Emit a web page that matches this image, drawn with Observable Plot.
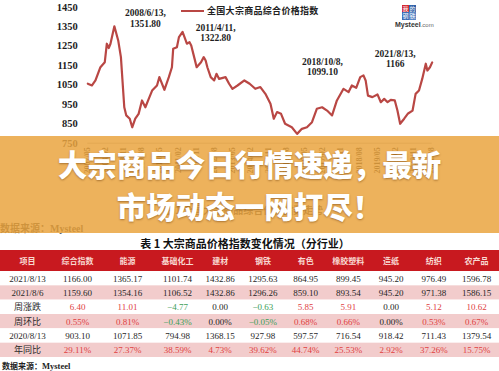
<!DOCTYPE html>
<html><head><meta charset="utf-8">
<script src="https://cdn.jsdelivr.net/npm/d3@7"></script>
<script src="https://cdn.jsdelivr.net/npm/@observablehq/plot@0.6"></script>
<style>
html,body{margin:0;padding:0;background:#fff;}
#wrap{position:relative;width:499px;height:371px;overflow:hidden;background:#fff;}
#wrap > div{position:absolute;white-space:nowrap;}
.cjk{font-family:"Noto Sans CJK SC","Liberation Serif",sans-serif;}
#chart [aria-label^="y-axis"] text{font:bold 10.5px "Liberation Serif",serif;fill:#1e1e1e;}
#chart [aria-label^="x-axis"] text{font:bold 8px "Liberation Serif",serif;fill:#1a1a1a;}
#table [aria-label="header"] text{letter-spacing:2px;}
</style></head>
<body><div id="wrap">
 <div id="chart" style="left:0;top:0;"></div>
 <div style="left:181px;top:10px;width:23px;height:2px;background:#b94744;"></div>
 <div class="cjk" style="left:207px;top:4px;font-size:9px;font-weight:700;letter-spacing:0.3px;color:#222;line-height:14px;">全国大宗商品综合价格指数</div>
 <div class="cjk" style="left:402px;top:5px;width:7px;height:7px;background:#d3262e;color:#fff;font-size:6px;line-height:7px;text-align:center;">我</div>
 <div class="cjk" style="left:409px;top:5px;width:7px;height:7px;background:#2f5fa8;color:#fff;font-size:6px;line-height:7px;text-align:center;">的</div>
 <div class="cjk" style="left:402px;top:12px;width:7px;height:8px;background:#3d6cb5;color:#fff;font-size:6px;line-height:8px;text-align:center;">钢</div>
 <div class="cjk" style="left:409px;top:12px;width:7px;height:8px;background:#5a86c6;color:#fff;font-size:6px;line-height:8px;text-align:center;">铁</div>
 <div style="left:395px;top:20px;font:bold 7px 'Liberation Sans',sans-serif;color:#333;line-height:9px;">Mysteel<span style="font-weight:400;font-size:6px;color:#666;">.com</span></div>
 <div class="cjk" style="left:0;width:486px;top:203px;text-align:center;font-size:10px;font-weight:700;color:#333;line-height:14px;">图 1 全国大宗商品综合价格指数走势</div>
 <div class="cjk" style="left:0;top:221px;font-size:10px;font-weight:700;color:#333;line-height:14px;">数据来源：<span style="font-family:'Liberation Serif',serif;">Mysteel</span></div>
 <div style="left:0;top:136px;width:499px;height:97px;background:rgba(234,164,63,0.85);"></div>
 <div class="cjk" style="left:0;width:499px;top:146px;text-align:center;font-size:29.5px;font-weight:900;color:#fff;line-height:34px;text-shadow:0 1px 2px rgba(90,45,0,0.45);">大宗商品今日行情速递，最新</div>
 <div class="cjk" style="left:0;width:499px;top:188px;text-align:center;font-size:29.5px;font-weight:900;color:#fff;line-height:34px;text-shadow:0 1px 2px rgba(90,45,0,0.45);">市场动态一网打尽！</div>
 <div class="cjk" style="left:0;width:490px;top:236px;text-align:center;font-size:11px;font-weight:700;color:#111;line-height:15px;">表 1 大宗商品价格指数变化情况（分行业）</div>
 <div id="table" style="left:0;top:248px;"></div>
 <div class="cjk" style="left:2px;top:360px;font-size:8px;font-weight:700;color:#222;line-height:11px;">数据来源：<span style="font-family:'Liberation Serif',serif;font-size:8.5px;">Mysteel</span></div>
</div>
<script>
// ---- Line chart data ----
const indexDates = ["2007-05-08","2007-07-10","2007-09-01","2007-11-15","2008-01-20","2008-02-20","2008-03-20","2008-04-15","2008-06-13","2008-08-10","2008-09-20","2008-11-10","2008-12-10","2009-02-01","2009-03-10","2009-04-25","2009-06-15","2009-08-05","2009-09-25","2009-11-15","2010-01-05","2010-03-20","2010-04-25","2010-07-10","2010-09-15","2010-11-01","2010-11-20","2011-01-15","2011-02-15","2011-04-11","2011-05-20","2011-06-15","2011-07-25","2011-08-20","2011-10-10","2011-11-10","2012-01-15","2012-02-25","2012-03-25","2012-04-20","2012-06-10","2012-08-01","2012-09-05","2012-10-15","2013-01-20","2013-03-15","2013-05-05","2013-07-20","2013-11-01","2014-01-20","2014-04-15","2014-07-01","2014-09-15","2014-12-01","2015-01-20","2015-03-10","2015-05-10","2015-07-10","2015-10-20","2016-01-08","2016-03-20","2016-06-05","2016-08-20","2016-11-01","2017-01-20","2017-04-05","2017-06-20","2017-09-01","2017-12-10","2018-02-25","2018-04-15","2018-06-20","2018-08-20","2018-10-08","2018-11-10","2018-12-15","2019-02-20","2019-05-08","2019-06-28","2019-08-18","2019-10-08","2019-11-25","2020-01-25","2020-03-05","2020-04-15","2020-06-15","2020-08-13","2020-10-20","2020-12-05","2021-01-25","2021-03-15","2021-05-08","2021-06-01","2021-07-10","2021-08-13"];
const indexValues = [1056,1047,1073,1141,1167,1262,1240,1262,1351.8,1279,1193,935,893,876,832,876,901,970,935,978,1021,1047,1090,1025,1090,1141,1236,1244,1296,1322.8,1287,1262,1270,1253,1184,1141,1167,1193,1176,1141,1090,1073,1107,1081,1090,1056,1030,1047,1073,1056,1030,1039,1004,953,876,910,901,850,832,798,824,832,858,927,935,918,893,970,1030,1013,1047,1035,1090,1099.1,1073,995,987,1001,961,978,961,973,970,918,850,876,903.1,918,1004,1021,1081,1159,1124,1141,1166];
const xTickLabels = ["2007/05","2008/02","2008/11","2009/08","2010/05","2011/02","2011/11","2012/08","2013/05","2014/02","2014/11","2015/08","2016/05","2017/02","2017/11","2018/08","2019/05","2020/02","2020/11","2021/08"];
const yTickValues = [750,850,950,1050,1150,1250,1350,1450];
const annDates = ["2008-06-13","2011-04-11","2018-10-08","2021-08-13"];
const annValues = [1351.80,1322.80,1099.10,1166];
const annLabels = ["2008/6/13,\n1351.80","2011/4/11,\n1322.80","2018/10/8,\n1099.10","2021/8/13,\n1166"];

// ---- Table data ----
const columns = ["项目","综合指数","能源","基础化工","建材","钢铁","有色","橡胶塑料","造纸","纺织","农产品"];
const rowLabels = ["2021/8/13","2021/8/6","周涨跌","周环比","2020/8/13","年同比"];
const row20210813 = [1166.00,1365.17,1101.74,1432.86,1295.63,864.95,899.45,945.20,976.49,1596.78];
const row20210806 = [1159.60,1354.16,1106.52,1432.86,1296.26,859.10,893.54,945.20,971.38,1586.15];
const rowWeekChange = [6.40,11.01,-4.77,0.00,-0.63,5.85,5.91,0.00,5.12,10.62];
const rowWeekPct = [0.55,0.81,-0.43,0.00,-0.05,0.68,0.66,0.00,0.53,0.67];
const row20200813 = [903.10,1071.85,794.98,1368.15,927.98,597.57,716.54,918.42,711.43,1379.54];
const rowYearPct = [29.11,27.37,38.59,4.73,39.62,44.74,25.53,2.92,37.26,15.75];

// ---- Chart ----
const parseDay = d3.utcParse("%Y-%m-%d");
const parseMonth = d3.utcParse("%Y/%m");
const series = indexDates.map((d, i) => ({date: parseDay(d), value: indexValues[i]}));
const anns = annDates.map((d, i) => ({date: parseDay(d), value: annValues[i], label: annLabels[i]}));
const annOffsets = [[31, -8], [33, 0.6], [-41, -9], [-37, -3.6]];
const lineColor = "#b94744";

const chart = Plot.plot({
  width: 499, height: 236,
  marginLeft: 87.3, marginRight: 67.3, marginTop: 6.7, marginBottom: 93.3,
  style: {fontFamily: "'Liberation Serif', serif", fontSize: "10px", background: "transparent", color: "#222", overflow: "visible"},
  x: {type: "utc", domain: [series[0].date, series[series.length - 1].date], ticks: xTickLabels.map(parseMonth), tickFormat: d3.utcFormat("%Y/%m"), tickRotate: -90, tickSize: 0, tickPadding: 4, label: null},
  y: {domain: [750, 1450], ticks: yTickValues, tickFormat: d3.format("d"), tickSize: 0, tickPadding: 10, label: null},
  marks: [
    Plot.ruleY([750], {stroke: "#9a9a9a", strokeWidth: 0.7}),
    Plot.line(series, {x: "date", y: "value", stroke: lineColor, strokeWidth: 2.2, strokeLinejoin: "round"}),
    ...anns.map((a, i) => Plot.text([a], {x: "date", y: "value", text: "label", dx: annOffsets[i][0], dy: annOffsets[i][1], fontSize: 9.5, fontWeight: "bold", fontFamily: "'Liberation Serif', serif", fill: "#1e1e1e", lineHeight: 1.08}))
  ]
});
document.getElementById("chart").appendChild(chart);

// ---- Table ----
const tableRows = [row20210813, row20210806, rowWeekChange, rowWeekPct, row20200813, rowYearPct];
const pctRows = new Set([3, 5]);
const signRows = new Set([2, 3, 5]);
const fmt = d3.format(".2f");
const red = "#e0413f", green = "#3c9e58", dark = "#262626";
const cells = tableRows.flatMap((vals, r) => vals.map((v, j) => ({
  r, c: j + 1,
  label: fmt(v) + (pctRows.has(r) ? "%" : ""),
  color: signRows.has(r) ? (v > 0 ? red : v < 0 ? green : dark) : dark
})));
const rows = rowLabels.map((label, i) => ({i, label}));

const table = Plot.plot({
  width: 499, height: 112,
  marginLeft: 0, marginRight: 0, marginTop: 0, marginBottom: 0,
  style: {fontFamily: "'Liberation Serif', 'Noto Sans CJK SC', serif", background: "transparent", overflow: "visible"},
  x: {type: "linear", domain: [0, 3, 10], range: [27, 177, 476], axis: null},
  y: {type: "linear", domain: [0, 1, 7], range: [2, 23, 109], axis: null},
  marks: [
    Plot.rect([0], {y1: () => 0, y2: () => 1, fill: "#c8191f"}),
    Plot.rect(rows, {y1: d => d.i + 1, y2: d => d.i + 2, fill: d => d.i % 2 ? "#f2cccc" : "#ffffff"}),
    Plot.text(columns, {x: (d, i) => i, y: () => 0.5, text: d => d, fill: "#f8d9d2", fontSize: 8, fontWeight: "bold", fontFamily: "'Noto Sans CJK SC', sans-serif", ariaLabel: "header"}),
    Plot.text(rows, {x: () => 0, y: d => d.i + 1.5, text: "label", fill: "#2a2a2a", fontSize: 9, fontFamily: "'Liberation Serif', 'Noto Sans CJK SC', serif"}),
    Plot.text(cells, {x: "c", y: d => d.r + 1.5, text: "label", fill: "color", fontSize: 9, fontFamily: "'Liberation Serif', serif"})
  ]
});
document.getElementById("table").appendChild(table);
</script>
</body></html>
